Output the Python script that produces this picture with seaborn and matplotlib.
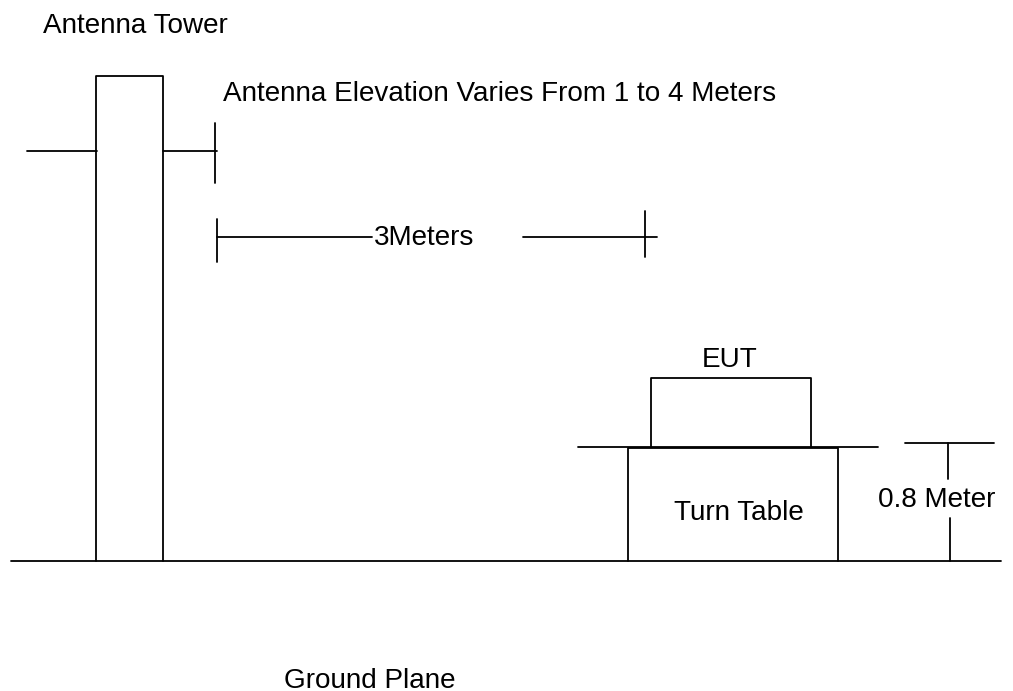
import pandas as pd
import seaborn as sns
import matplotlib.pyplot as plt

# line work of the diagram (pixels)
tower_x = [96, 96, 163, 163]
tower_y = [561, 76, 76, 561]
ground_x = [11, 1001]
ground_y = [561, 561]
arm_left_x = [27, 97]
arm_left_y = [151, 151]
arm_right_x = [163, 217]
arm_right_y = [151, 151]
arm_tick_x = [215, 215]
arm_tick_y = [123, 183]
dist_start_x = [217, 217]
dist_start_y = [219, 262]
dist_left_x = [217, 372]
dist_left_y = [237, 237]
dist_right_x = [523, 657]
dist_right_y = [237, 237]
dist_end_x = [645, 645]
dist_end_y = [211, 257]
eut_x = [651, 651, 811, 811]
eut_y = [447, 378, 378, 447]
top_x = [578, 878]
top_y = [447, 447]
table_x = [628, 628, 838, 838]
table_y = [561, 448, 448, 561]
height_top_x = [905, 994]
height_top_y = [443, 443]
height_up_x = [948, 948]
height_up_y = [443, 479]
height_low_x = [950, 950]
height_low_y = [518, 561]

segments = [
    (tower_x, tower_y), (ground_x, ground_y), (arm_left_x, arm_left_y),
    (arm_right_x, arm_right_y), (arm_tick_x, arm_tick_y),
    (dist_start_x, dist_start_y), (dist_left_x, dist_left_y),
    (dist_right_x, dist_right_y), (dist_end_x, dist_end_y),
    (eut_x, eut_y), (top_x, top_y), (table_x, table_y),
    (height_top_x, height_top_y), (height_up_x, height_up_y),
    (height_low_x, height_low_y),
]

rows = []
for i, (xs, ys) in enumerate(segments):
    for x, y in zip(xs, ys):
        rows.append({'seg': i, 'x': x, 'y': y})
df = pd.DataFrame(rows)

labels = ['Antenna Tower', 'Antenna Elevation Varies From 1 to 4 Meters', '3Meters',
          'EUT', 'Turn Table', '0.8 Meter', 'Ground Plane']
label_x = [43, 223, 374, 702, 674, 878, 284]
label_y = [33, 101, 245, 367, 520, 507, 688]

sns.set_style('white')
plt.rcParams['font.family'] = ['Liberation Sans', 'DejaVu Sans']

fig = plt.figure(figsize=(10.13, 6.91), dpi=100)
ax = fig.add_axes([0, 0, 1, 1])
sns.lineplot(data=df, x='x', y='y', units='seg', estimator=None, sort=False,
             color='black', linewidth=1.3, ax=ax)
for t, x, y in zip(labels, label_x, label_y):
    ax.text(x, y, t, fontsize=20.1, color='black', ha='left', va='baseline')

ax.set_xlim(0, 1013)
ax.set_ylim(691, 0)
ax.axis('off')
fig.savefig('out.png', dpi=100)
